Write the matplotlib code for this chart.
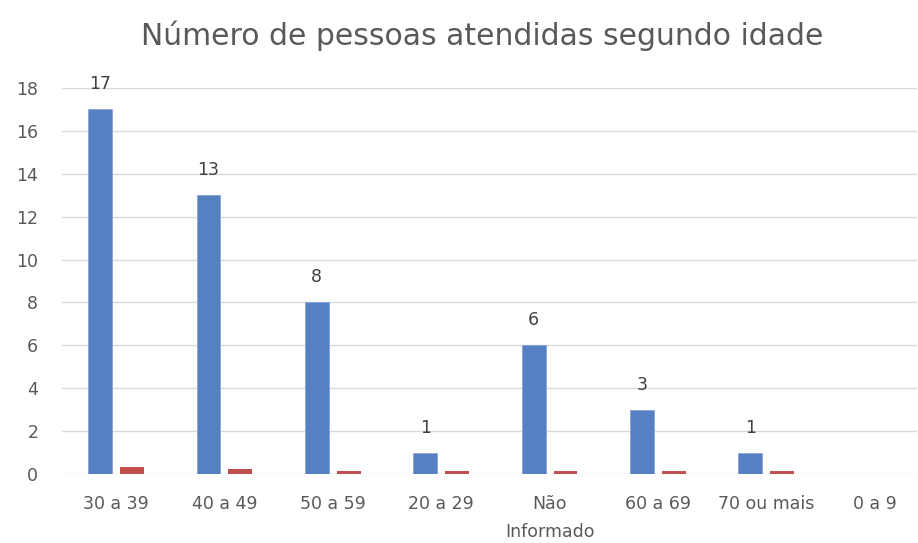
import matplotlib
matplotlib.use("Agg")
import matplotlib.pyplot as plt
import numpy as np

# --- dados ---
faixas = ["30 a 39", "40 a 49", "50 a 59", "20 a 29", "Não\nInformado",
          "60 a 69", "70 ou mais", "0 a 9"]
pessoas = [17, 13, 8, 1, 6, 3, 1, 0]
proporcao = [0.31, 0.22, 0.14, 0.12, 0.12, 0.12, 0.12, 0]
rotulos = ["17", "13", "8", "1", "6", "3", "1", ""]

plt.rcParams['font.family'] = ['DejaVu Sans']

fig = plt.figure(figsize=(9.18, 5.43), dpi=100)
ax = fig.add_axes([0.0675, 0.127, 0.931, 0.711])

x = np.arange(len(faixas))
larg = 0.22
barras = ax.bar(x - 0.148, pessoas, width=larg, color='#5680c1',
                edgecolor='#86a5d6', linewidth=0.6, zorder=3)
ax.bar(x + 0.146, proporcao, width=larg, color='#c0504d', zorder=3)

# rótulos acima das barras azuis
for b, txt in zip(barras, rotulos):
    ax.text(b.get_x() + b.get_width() / 2, b.get_height() + 0.75, txt,
            ha='center', va='bottom', fontsize=12.5, color='#404040')

ax.set_xlim(-0.5, 7.386)
ax.set_ylim(0, 18)
ax.set_yticks(range(0, 19, 2))
ax.set_xticks(x)
ax.set_xticklabels(faixas, linespacing=1.75)
ax.tick_params(axis='both', length=0, labelsize=12.5, labelcolor='#595959')
ax.tick_params(axis='y', pad=17)
ax.tick_params(axis='x', pad=15)
ax.yaxis.grid(True, color='#d9d9d9', linewidth=1, zorder=0)
for s in ax.spines.values():
    s.set_visible(False)

fig.text(0.525, 0.935, "Número de pessoas atendidas segundo idade",
         ha='center', va='center', fontsize=21.5, color='#595959')

fig.savefig("out.png", dpi=100)
